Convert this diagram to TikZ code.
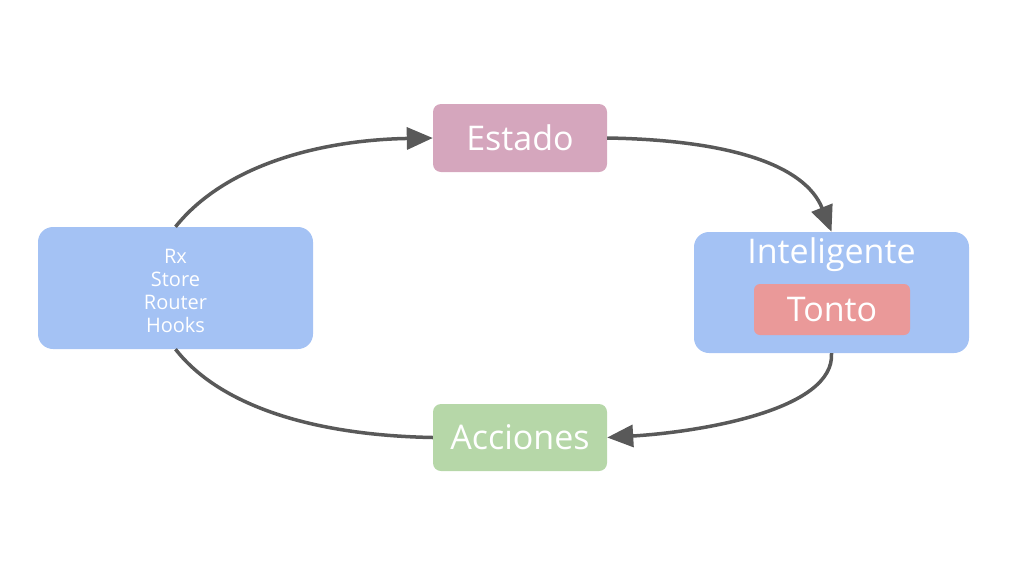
\documentclass[tikz,border=0pt]{standalone}
\usepackage{fontspec}
\setmainfont{Open Sans}
\usetikzlibrary{arrows.meta}
\definecolor{cpink}{HTML}{D5A6BD}
\definecolor{cblue}{HTML}{A4C2F4}
\definecolor{cred}{HTML}{EA9999}
\definecolor{cgreen}{HTML}{B6D7A8}
\definecolor{cline}{HTML}{595959}
\tikzset{
  box/.style={rectangle, rounded corners=#1, inner sep=0pt, text=white},
  box/.default=8pt,
  big/.style={font=\fontsize{34}{40}\selectfont},
  flow/.style={draw=cline, line width=3.5pt},
  flowarrow/.style={flow, -{Triangle[length=26pt,width=22pt]}},
}
\begin{document}
\begin{tikzpicture}[x=1pt,y=-1pt]
\useasboundingbox (0,0) rectangle (1024,576);
\node[box, fill=cpink, minimum width=174pt, minimum height=68pt, big] (estado) at (520,138) {Estado};
\node[box, fill=cgreen, minimum width=174pt, minimum height=67pt, big] (acciones) at (520,437.5) {Acciones};
\node[box=15pt, fill=cblue, minimum width=275pt, minimum height=122pt] (left) at (175.5,288) {};
\node[text=white, align=center, font=\fontsize{20}{23.3}\selectfont] (libs) at (175.5,291) {Rx\\Store\\Router\\Hooks};
\node[box=15pt, fill=cblue, minimum width=275pt, minimum height=121pt] (smart) at (831.5,292.5) {};
\node[text=white, big, inner sep=0pt] (intel) at (831.5,255) {Inteligente};
\node[box=6pt, fill=cred, minimum width=156pt, minimum height=51pt, big] (tonto) at (832,309.5) {Tonto};
\draw[flowarrow] (left.north) .. controls (225,165) and (320,140) .. (estado.west);
\draw[flowarrow] (estado.east) .. controls (730,140) and (805,165) .. (smart.north);
\draw[flowarrow] (smart.south) .. controls (835,410) and (700,432) .. (acciones.east);
\draw[flow] (acciones.west) .. controls (300,435) and (215,400) .. (left.south);
\end{tikzpicture}
\end{document}
